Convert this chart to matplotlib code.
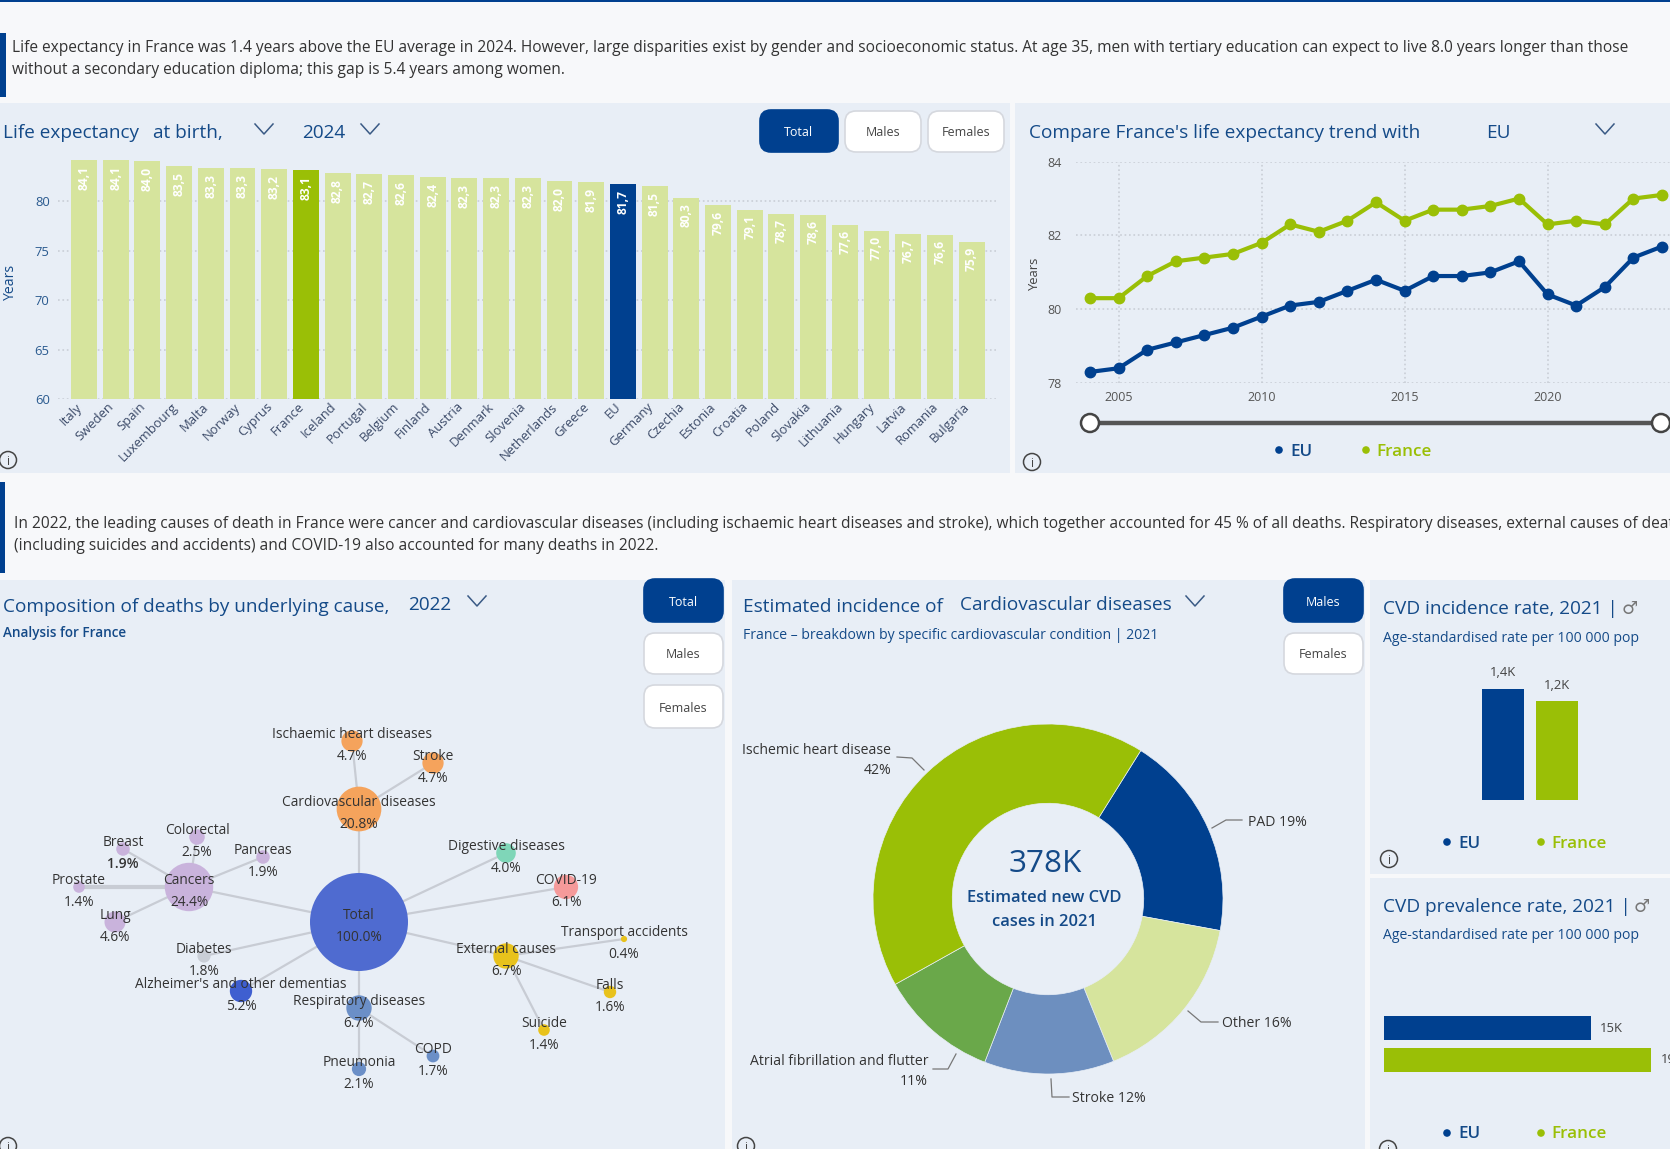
import matplotlib
matplotlib.use('Agg')
import matplotlib.pyplot as plt
from matplotlib.patches import Circle, FancyBboxPatch, Rectangle
from matplotlib.transforms import ScaledTranslation

W, H = 1670, 1149
FONT = ['Open Sans', 'DejaVu Sans']
plt.rcParams['font.family'] = FONT

# data
countries = ['Italy', 'Sweden', 'Spain', 'Luxembourg', 'Malta', 'Norway', 'Cyprus', 'France', 'Iceland',
             'Portugal', 'Belgium', 'Finland', 'Austria', 'Denmark', 'Slovenia', 'Netherlands', 'Greece', 'EU',
             'Germany', 'Czechia', 'Estonia', 'Croatia', 'Poland', 'Slovakia', 'Lithuania', 'Hungary', 'Latvia',
             'Romania', 'Bulgaria']
life_exp = [84.1, 84.1, 84.0, 83.5, 83.3, 83.3, 83.2, 83.1, 82.8, 82.7, 82.6, 82.4, 82.3, 82.3, 82.3, 82.0, 81.9,
            81.7, 81.5, 80.3, 79.6, 79.1, 78.7, 78.6, 77.6, 77.0, 76.7, 76.6, 75.9]

years = list(range(2004, 2025))
eu_trend = [78.3, 78.4, 78.9, 79.1, 79.3, 79.5, 79.8, 80.1, 80.2, 80.5, 80.8, 80.5, 80.9, 80.9, 81.0, 81.3, 80.4,
            80.1, 80.6, 81.4, 81.7]
france_trend = [80.3, 80.3, 80.9, 81.3, 81.4, 81.5, 81.8, 82.3, 82.1, 82.4, 82.9, 82.4, 82.7, 82.7, 82.8, 83.0,
                82.3, 82.4, 82.3, 83.0, 83.1]

causes = ['Total', 'Cancers', 'Cardiovascular diseases', 'Ischaemic heart diseases', 'Stroke', 'Digestive diseases',
          'COVID-19', 'External causes', 'Transport accidents', 'Falls', 'Suicide', 'Respiratory diseases', 'COPD',
          'Pneumonia', "Alzheimer's and other dementias", 'Diabetes', 'Lung', 'Prostate', 'Breast', 'Colorectal',
          'Pancreas']
cause_share = [100.0, 24.4, 20.8, 4.7, 4.7, 4.0, 6.1, 6.7, 0.4, 1.6, 1.4, 6.7, 1.7, 2.1, 5.2, 1.8, 4.6, 1.4, 1.9,
               2.5, 1.9]
cause_parent = [None, 'Total', 'Total', 'Cardiovascular diseases', 'Cardiovascular diseases', 'Total', 'Total',
                'Total', 'External causes', 'External causes', 'External causes', 'Total', 'Respiratory diseases',
                'Respiratory diseases', 'Total', 'Total', 'Cancers', 'Cancers', 'Cancers', 'Cancers', 'Cancers']

cvd_names = ['PAD', 'Other', 'Stroke', 'Atrial fibrillation and flutter', 'Ischemic heart disease']
cvd_share = [19, 16, 12, 11, 42]

incidence_rate = [1400, 1245]
prevalence_rate = [15.0, 19.4]

# layout of the tree, in pixels
node_xy = [(359, 922), (189, 887), (359, 809), (352, 741), (433, 763), (506, 853), (566, 887), (506, 956), (624, 939),
           (610, 992), (544, 1030), (359, 1008), (433, 1056), (359, 1069), (241, 991), (204, 956), (115, 922),
           (79, 887), (123, 849), (197, 837), (263, 857)]
node_col = ['#4f6bd0', '#c9b3dc', '#f5a35c', '#f5a35c', '#f5a35c', '#7fd6b8', '#f59a9a', '#e8c21c', '#e8c21c',
            '#e8c21c', '#e8c21c', '#6b8fc7', '#6b8fc7', '#6b8fc7', '#3f5fd0', '#c9ced6', '#c9b3dc', '#c9b3dc',
            '#c9b3dc', '#c9b3dc', '#c9b3dc']

NAVY = '#00408f'
GREEN = '#9abf06'
PALE = '#d6e49d'
PANEL = '#e8eef6'
TITLE = '#144a88'


def px(size):
    return size * 0.72


def pixel_axes(x0, y0, x1, y1):
    ax = fig.add_axes([x0 / W, 1 - y1 / H, (x1 - x0) / W, (y1 - y0) / H])
    ax.patch.set_alpha(0)
    return ax


def txt(x, y, s, size=14, color='#333333', ha='left', va='center', **kw):
    # Open Sans sits a little high when centred
    return bg.text(x, y + 1.5, s, fontsize=px(size), color=color, ha=ha, va=va, **kw)


def button(x0, y0, x1, y1, label, active=False):
    face = NAVY if active else 'white'
    edge = NAVY if active else '#d5d8de'
    bg.add_patch(FancyBboxPatch((x0, y0), x1 - x0, y1 - y0, boxstyle='round,pad=0,rounding_size=11',
                                fc=face, ec=edge, lw=1.2))
    txt((x0 + x1) / 2, (y0 + y1) / 2, label, 12.5, 'white' if active else '#444444', ha='center')


def chevron(x, y):
    bg.plot([x - 9, x, x + 9], [y - 5, y + 5, y - 5], color='#3a5a85', lw=1.1)


def info(x, y):
    bg.add_patch(Circle((x, y), 8.5, fc='none', ec='#444444', lw=1.1))
    txt(x, y, 'i', 12, '#444444', ha='center')


def legend(y, x_eu, x_fr, size=17):
    bg.add_patch(Circle((x_eu, y), 3.8, fc=NAVY, ec='none'))
    txt(x_eu + 11, y, 'EU', size, TITLE, fontweight='semibold')
    bg.add_patch(Circle((x_fr, y), 3.8, fc=GREEN, ec='none'))
    txt(x_fr + 10, y, 'France', size, GREEN, fontweight='semibold')


def dotted_grid(ax):
    ax.grid(True, color='#c9ced6', ls=':', lw=1.2)
    ax.set_axisbelow(True)
    for s in ax.spines.values():
        s.set_visible(False)


fig = plt.figure(figsize=(W / 100, H / 100), dpi=100, facecolor='#f7f8fa')
bg = fig.add_axes([0, 0, 1, 1])
bg.set_xlim(0, W)
bg.set_ylim(H, 0)
bg.axis('off')

# panels and strips
for x0, y0, x1, y1 in [(0, 103, 1010, 473), (1015, 103, 1670, 473), (0, 580, 725, 1149), (732, 580, 1365, 1149),
                       (1370, 580, 1670, 874), (1370, 878, 1670, 1149)]:
    bg.add_patch(Rectangle((x0, y0), x1 - x0, y1 - y0, fc=PANEL, ec='none'))
bg.add_patch(Rectangle((0, 0), W, 2, fc=NAVY, ec='none'))
bg.add_patch(Rectangle((0, 33), 6, 64, fc=NAVY, ec='none'))
bg.add_patch(Rectangle((0, 482), 5, 91, fc=NAVY, ec='none'))

txt(12, 47, 'Life expectancy in France was 1.4 years above the EU average in 2024. However, large disparities exist '
    'by gender and socioeconomic status. At age 35, men with tertiary education can expect to live 8.0 years longer '
    'than those', 15.5)
txt(12, 68, 'without a secondary education diploma; this gap is 5.4 years among women.', 15.5)
txt(14, 523, 'In 2022, the leading causes of death in France were cancer and cardiovascular diseases (including '
    'ischaemic heart diseases and stroke), which together accounted for 45 % of all deaths. Respiratory diseases, '
    'external causes of death', 15.5)
txt(14, 544, '(including suicides and accidents) and COVID-19 also accounted for many deaths in 2022.', 15.5)

# titles
txt(3, 132, 'Life expectancy', 19, TITLE)
txt(153, 132, 'at birth,', 19, TITLE)
chevron(264, 129)
txt(302, 132, '2024', 19, TITLE)
chevron(370, 129)
button(760, 110, 838, 152, 'Total', True)
button(845, 111, 921, 152, 'Males')
button(928, 111, 1004, 152, 'Females')
info(8, 460)

txt(1029, 132, "Compare France's life expectancy trend with", 19, TITLE)
txt(1486, 132, 'EU', 19, TITLE)
chevron(1605, 129)
info(1032, 462)

txt(3, 605, 'Composition of deaths by underlying cause,', 19, TITLE)
txt(408, 604, '2022', 19, TITLE)
chevron(477, 601)
txt(3, 631, 'Analysis for France', 13.5, TITLE, fontweight='semibold')
button(644, 579, 723, 622, 'Total', True)
button(644, 633, 723, 674, 'Males')
button(644, 685, 723, 728, 'Females')
info(8, 1146)

txt(743, 605, 'Estimated incidence of', 19, TITLE)
txt(960, 604, 'Cardiovascular diseases', 19, TITLE)
chevron(1195, 601)
txt(743, 634, 'France – breakdown by specific cardiovascular condition | 2021', 14, TITLE)
button(1284, 579, 1363, 622, 'Males', True)
button(1284, 633, 1363, 674, 'Females')
info(746, 1146)

# bars by country
ax = pixel_axes(58, 151.5, 997, 399)
pos = list(range(len(countries)))
pitch = 31.7
ax.set_xlim((58 - 84) / pitch, (997 - 84) / pitch)
ax.set_ylim(60, 85)
cols = [GREEN if c == 'France' else NAVY if c == 'EU' else PALE for c in countries]
ax.bar(pos, life_exp, width=0.82, color=cols)
for p, v in zip(pos, life_exp):
    ax.text(p, v - 0.55, f'{v:.1f}'.replace('.', ','), rotation=90, ha='center', va='top', color='white',
            fontsize=px(12), fontweight='bold')
dotted_grid(ax)
ax.grid(False, axis='x')
ax.set_yticks([60, 65, 70, 75, 80])
ax.tick_params(axis='y', length=0, labelsize=px(13), labelcolor='#2a5a8f', pad=6)
ax.set_xticks(pos)
ax.set_xticklabels(countries, rotation=45, ha='right', rotation_mode='anchor', fontsize=px(13), color='#3b4a68')
ax.tick_params(axis='x', length=0, pad=1)
shift = ScaledTranslation(-6 / 72, 0, fig.dpi_scale_trans)
for lab in ax.get_xticklabels():
    lab.set_transform(lab.get_transform() + shift)
txt(10, 280, 'Years', 14, TITLE, ha='center', rotation=90, fontweight='medium')

# trend lines
ax = pixel_axes(1076, 161.7, 1670, 383)
ax.set_xlim(2004 + (1076 - 1090) / 28.6, 2004 + (1670 - 1090) / 28.6)
ax.set_ylim(78, 84)
ax.plot(years, eu_trend, color=NAVY, lw=3, marker='o', ms=7.5, clip_on=False)
ax.plot(years, france_trend, color=GREEN, lw=3, marker='o', ms=7.5, clip_on=False)
dotted_grid(ax)
ax.set_xticks([2005, 2010, 2015, 2020])
ax.set_yticks([78, 80, 82, 84])
ax.tick_params(axis='both', length=0, labelsize=px(12.5), labelcolor='#555555')
ax.tick_params(axis='y', pad=10)
ax.tick_params(axis='x', pad=6)
txt(1034, 272, 'Years', 13, '#444444', ha='center', rotation=90)

# year slider
bg.plot([1090, 1662], [423, 423], color='#555555', lw=3.2, solid_capstyle='butt')
bg.add_patch(Circle((1090, 423), 9, fc='white', ec='#444444', lw=1.8, zorder=3))
bg.add_patch(Circle((1661, 423), 9, fc='white', ec='#444444', lw=1.8, zorder=3))
legend(450, 1279, 1366)

# cause of death tree
by_name = dict(zip(causes, node_xy))
for name, par in zip(causes, cause_parent):
    if par:
        x0, y0 = by_name[name]
        x1, y1 = by_name[par]
        bg.plot([x0, x1], [y0, y1], color='#c8ccd4', lw=3 if name == 'Prostate' else 1.6, zorder=1)
for name, v, (x, y), c in zip(causes, cause_share, node_xy, node_col):
    # node area follows the share of deaths
    bg.add_patch(Circle((x, y), 4.9 * v ** 0.5, fc=c, ec='none', zorder=2))
    txt(x, y - 8, name, 13.7, '#333333', ha='center', zorder=3)
    txt(x, y + 14, f'{v:.1f}%', 13.7, '#333333', ha='center', zorder=3,
        fontweight='semibold' if name == 'Breast' else 'normal')

# CVD donut
ax = pixel_axes(1048 - 175, 899 - 175, 1048 + 175, 899 + 175)
ax.pie(cvd_share, colors=[NAVY, PALE, '#6d8fbf', '#6aa84a', GREEN], startangle=58, counterclock=False, radius=1,
       wedgeprops=dict(width=0.453, edgecolor=PANEL, linewidth=0.5))
ax.set_xlim(-1, 1)
ax.set_ylim(-1, 1)
txt(1045, 862, '378K', 31.5, TITLE, ha='center', fontweight='medium')
txt(1044, 897, 'Estimated new CVD', 16.5, TITLE, ha='center', fontweight='semibold')
txt(1044, 921, 'cases in 2021', 16.5, TITLE, ha='center', fontweight='semibold')

leader_col = '#777777'
txt(891, 749, f'{cvd_names[4]}', 14, ha='right')
txt(891, 769, f'{cvd_share[4]}%', 14, ha='right')
bg.plot([897, 912, 924], [757, 758, 770], color=leader_col, lw=0.9)
txt(1248, 821, f'{cvd_names[0]} {cvd_share[0]}%', 14)
bg.plot([1242, 1226, 1212], [820, 820, 828], color=leader_col, lw=0.9)
txt(1222, 1022, f'{cvd_names[1]} {cvd_share[1]}%', 14)
bg.plot([1218, 1201, 1188], [1022, 1022, 1011], color=leader_col, lw=0.9)
txt(1072, 1097, f'{cvd_names[2]} {cvd_share[2]}%', 14)
bg.plot([1069, 1052, 1051], [1097, 1097, 1079], color=leader_col, lw=0.9)
txt(928, 1060, f'{cvd_names[3]}', 14, ha='right')
txt(928, 1080, f'{cvd_share[3]}%', 14, ha='right')
bg.plot([933, 948, 956], [1069, 1069, 1054], color=leader_col, lw=0.9)

# incidence rate
txt(1383, 607, 'CVD incidence rate, 2021 |', 19, TITLE)
txt(1630, 607, '♂', 18, '#777777', ha='center')
txt(1383, 637, 'Age-standardised rate per 100 000 pop', 14, TITLE, fontweight='medium')
ax = pixel_axes(1481, 689, 1579, 800)
ax.bar([0, 1], incidence_rate, width=0.78, color=[NAVY, GREEN])
ax.set_ylim(0, 1400)
ax.axis('off')
ax.set_xlim(-0.4, 1.4)
for p, v in zip([0, 1], incidence_rate):
    ax.annotate(f'{v / 1000:.1f}K'.replace('.', ','), (p, v), xytext=(0, 7), textcoords='offset points', ha='center',
                va='bottom', fontsize=px(13), color='#444444', annotation_clip=False)
legend(842, 1447, 1541)
info(1389, 859)

# prevalence rate
txt(1383, 905, 'CVD prevalence rate, 2021 |', 19, TITLE)
txt(1642, 905, '♂', 18, '#777777', ha='center')
txt(1383, 934, 'Age-standardised rate per 100 000 pop', 14, TITLE, fontweight='medium')
ax = pixel_axes(1383.5, 1015, 1670, 1073)
ax.barh([1, 0], prevalence_rate, height=0.77, color=[NAVY, GREEN])
ax.set_xlim(0, (1670 - 1383.5) / 13.8)
ax.set_ylim(-0.42, 1.42)
ax.axis('off')
for y, v in zip([1, 0], prevalence_rate):
    ax.annotate(f'{v:.0f}K', (v, y), xytext=(7, 0), textcoords='offset points', va='center', fontsize=px(13),
                fontweight='medium', color='#444444')
legend(1133, 1447, 1541)
info(1388, 1149)

fig.savefig('out.png', dpi=100, facecolor=fig.get_facecolor())
